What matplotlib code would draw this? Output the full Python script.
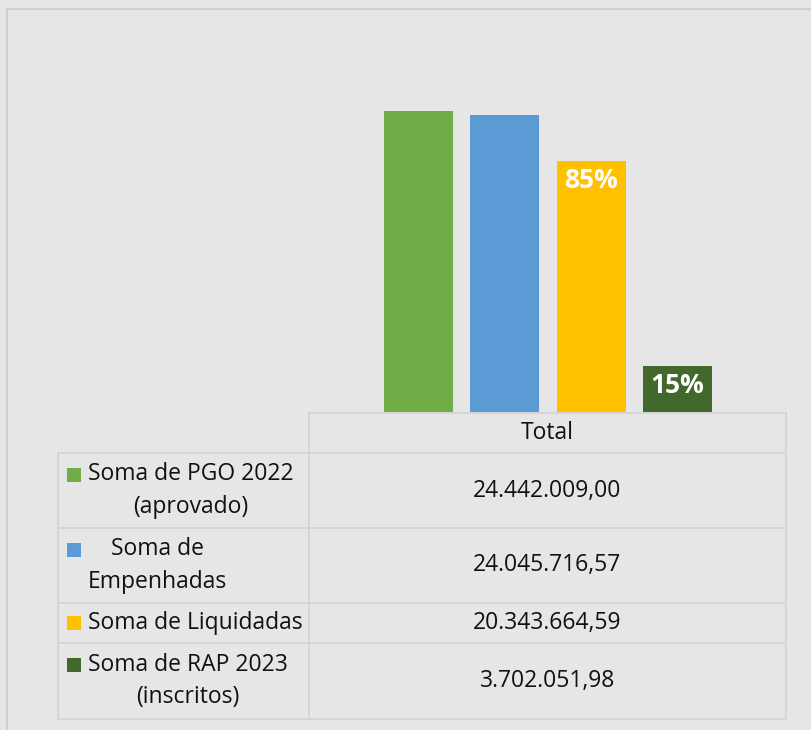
import matplotlib
matplotlib.use("Agg")
import matplotlib.pyplot as plt
from matplotlib.lines import Line2D
from matplotlib.patches import Rectangle

plt.rcParams["font.family"] = ["Open Sans", "DejaVu Sans"]

W, H = 812, 730
BG = "#e6e6e6"
GRID = "#d5d5d5"

# dados
series = [
    "Soma de PGO 2022\n(aprovado)",
    "Soma de\nEmpenhadas",
    "Soma de Liquidadas",
    "Soma de RAP 2023\n(inscritos)",
]
values = [24442009.00, 24045716.57, 20343664.59, 3702051.98]
value_labels = ["24.442.009,00", "24.045.716,57", "20.343.664,59", "3.702.051,98"]
pct_labels = ["", "", "85%", "15%"]
colors = ["#70AD47", "#5B9BD5", "#FFC000", "#43682B"]
category = "Total"


def fx(px):
    return px / W


def fy(py):
    return 1 - py / H


fig = plt.figure(figsize=(W / 100, H / 100), dpi=100, facecolor=BG)

# moldura externa
fig.patches.append(Rectangle((fx(7), fy(760)), fx(900), 751 / H, transform=fig.transFigure,
                             facecolor="none", edgecolor="#d0d0d0", linewidth=1.5))

ax = fig.add_axes([fx(309), fy(412), fx(786) - fx(309), fy(42) - fy(412)])
ax.set_facecolor(BG)
ax.patch.set_alpha(0)
xs = [0, 1, 2, 3]
bars = ax.bar(xs, values, width=0.8, color=colors)
ax.set_xlim(1.5 - 239 / 86.3, 1.5 + 238 / 86.3)
ax.set_ylim(0, 30000000)
ax.axis("off")

for bar, lab in zip(bars, pct_labels):
    if lab:
        ax.annotate(lab, (bar.get_x() + bar.get_width() / 2, bar.get_height()),
                    xytext=(0, -4), textcoords="offset points", ha="center", va="top",
                    color="white", fontsize=19, fontweight="bold")


def hline(x0, x1, y):
    fig.add_artist(Line2D([fx(x0), fx(x1)], [fy(y), fy(y)], transform=fig.transFigure,
                          color=GRID, linewidth=1.4))


def vline(x, y0, y1):
    fig.add_artist(Line2D([fx(x), fx(x)], [fy(y0), fy(y1)], transform=fig.transFigure,
                          color=GRID, linewidth=1.4))


# tabela de dados
rows = [413, 453, 528, 603, 643, 719]
hline(309, 786, rows[0])
for y in rows[1:]:
    hline(58, 786, y)
vline(309, rows[0], rows[-1])
vline(786, rows[0], rows[-1])
vline(58, rows[1], rows[-1])

fig.text(fx(547.5), fy((rows[0] + rows[1]) / 2), category, ha="center", va="center",
         fontsize=16.5, color="#111111")

for i, (name, val, col) in enumerate(zip(series, value_labels, colors)):
    top, bot = rows[i + 1], rows[i + 2]
    yc = (top + bot) / 2
    nlines = name.count("\n") + 1
    first = yc - (nlines - 1) * 16
    fig.patches.append(Rectangle((fx(67), fy(first + 7)), 14 / W, 14 / H,
                                 transform=fig.transFigure, facecolor=col, edgecolor="none"))
    fig.text(fx(88), fy(yc), name, ha="left", va="center", multialignment="center",
             fontsize=16.5, color="#111111", linespacing=1.45)
    fig.text(fx(547.5), fy(yc), val, ha="center", va="center", fontsize=16.5, color="#111111")

fig.savefig("out.png", dpi=100, facecolor=BG)
